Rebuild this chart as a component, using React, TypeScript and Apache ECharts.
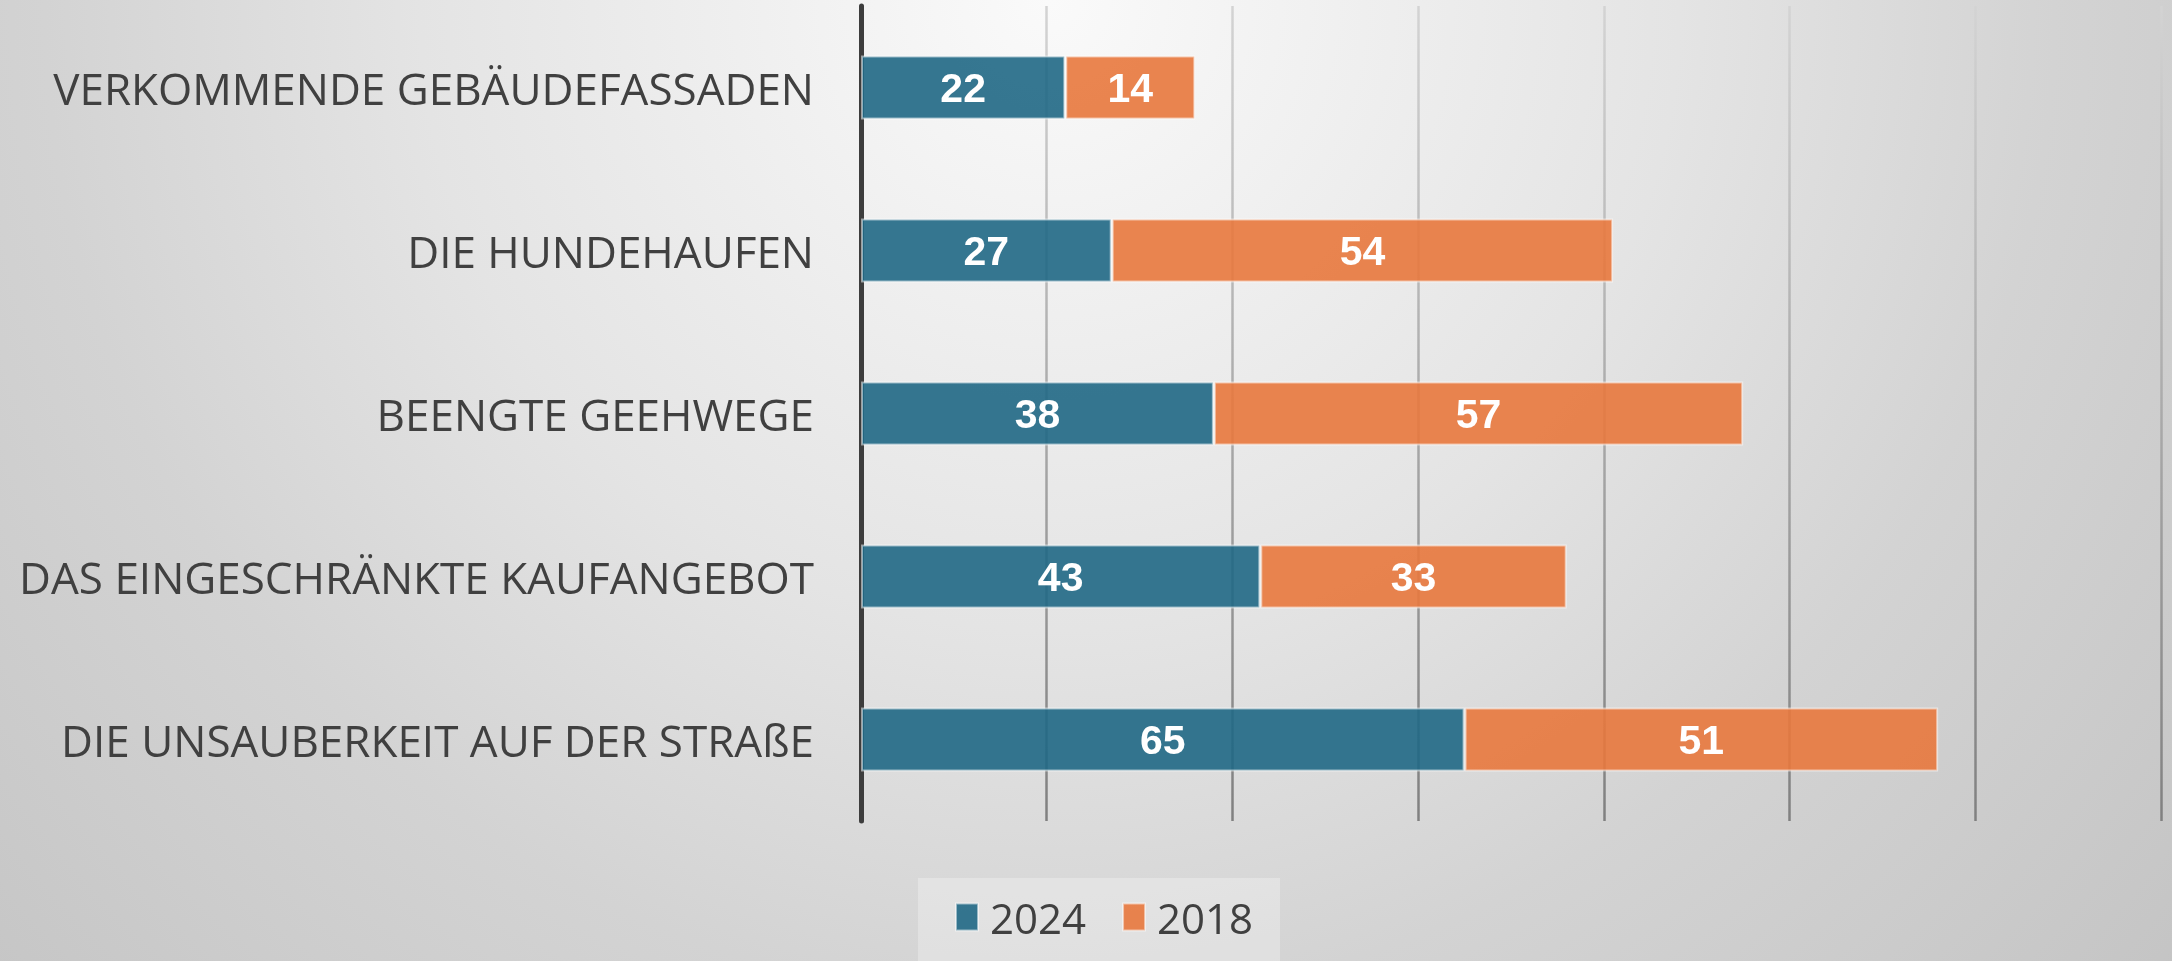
import React, { useEffect, useRef } from "react";
import * as echarts from "echarts";

const categories = [
  "VERKOMMENDE GEBÄUDEFASSADEN",
  "DIE HUNDEHAUFEN",
  "BEENGTE GEEHWEGE",
  "DAS EINGESCHRÄNKTE KAUFANGEBOT",
  "DIE UNSAUBERKEIT AUF DER STRAßE",
];
const values2024 = [22, 27, 38, 43, 65];
const values2018 = [14, 54, 57, 33, 51];
const seriesNames = ["2024", "2018"];

const W = 2172;
const H = 961;

export default function App() {
  const ref = useRef<HTMLDivElement>(null);
  useEffect(() => {
    if (!ref.current) return;
    const chart = echarts.init(ref.current, undefined, { renderer: "svg", width: W, height: H });
    const option: any = {
      animation: false,
      graphic: [
        {
          type: "rect",
          z: -10,
          silent: true,
          shape: { x: 0, y: 0, width: W, height: H },
          style: {
            fill: {
              type: "radial",
              x: 1050,
              y: 0,
              r: 1500,
              global: true,
              colorStops: [
                { offset: 0, color: "#fafafa" },
                { offset: 0.42, color: "#e4e4e4" },
                { offset: 0.67, color: "#d3d3d3" },
                { offset: 1, color: "#c4c4c4" },
              ],
            },
          },
        },
        {
          type: "rect",
          z: -5,
          silent: true,
          shape: { x: 918, y: 878, width: 362, height: 90 },
          style: { fill: "rgba(255,255,255,0.28)" },
        },
      ],
      grid: { left: 861, top: 6, width: 1300, height: 815, containLabel: false },
      xAxis: {
        type: "value",
        min: 0,
        max: 140,
        interval: 20,
        axisLine: { show: false },
        axisTick: { show: false },
        axisLabel: { show: false },
        splitLine: {
          show: true,
          lineStyle: {
            width: 2.5,
            color: {
              type: "linear",
              x: 0,
              y: 0,
              x2: 0,
              y2: 821,
              global: true,
              colorStops: [
                { offset: 0, color: "#d4d4d4" },
                { offset: 1, color: "#808080" },
              ],
            },
          },
        },
      },
      yAxis: {
        type: "category",
        data: categories,
        inverse: true,
        axisLine: { show: true, lineStyle: { color: "#3d3d3d", width: 5 } },
        axisTick: { show: false },
        axisLabel: {
          margin: 47,
          color: "#404040",
          fontSize: 44,
          fontFamily: "Open Sans",
        },
        splitLine: { show: false },
      },
      legend: {
        data: seriesNames,
        left: 955,
        top: 896,
        padding: 0,
        itemWidth: 22,
        itemHeight: 27,
        itemGap: 36,
        icon: "rect",
        textStyle: {
          fontSize: 42,
          color: "#404040",
          fontFamily: "Open Sans",
          padding: [0, 0, 0, 7],
        },
      },
      series: [
        {
          name: seriesNames[0],
          type: "bar",
          stack: "total",
          barWidth: 64,
          data: values2024,
          itemStyle: {
            color: "rgba(32,104,133,0.9)",
            borderColor: "rgba(255,255,255,0.5)",
            borderWidth: 2,
          },
          label: {
            show: true,
            position: "inside",
            color: "#ffffff",
            fontSize: 41,
            fontWeight: "bold",
            fontFamily: "Liberation Sans",
          },
        },
        {
          name: seriesNames[1],
          type: "bar",
          stack: "total",
          barWidth: 64,
          data: values2018,
          itemStyle: {
            color: "rgba(232,120,61,0.9)",
            borderColor: "rgba(255,255,255,0.5)",
            borderWidth: 2,
          },
          label: {
            show: true,
            position: "inside",
            color: "#ffffff",
            fontSize: 41,
            fontWeight: "bold",
            fontFamily: "Liberation Sans",
          },
        },
      ],
    };
    chart.setOption(option);
    return () => chart.dispose();
  }, []);
  return (
    <div
      ref={ref}
      style={{ position: "fixed", left: 0, top: 0, width: W, height: H }}
    />
  );
}
